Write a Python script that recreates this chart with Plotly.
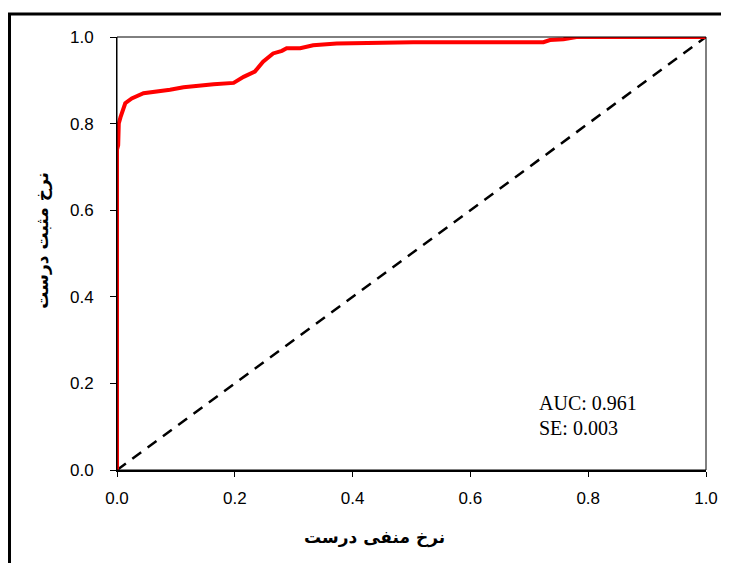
import plotly.graph_objects as go

fpr = [0.0, 0.0, 0.002, 0.003, 0.006, 0.014, 0.025, 0.045, 0.09, 0.113, 0.164, 0.198,
       0.215, 0.234, 0.248, 0.265, 0.28, 0.288, 0.311, 0.333, 0.373, 0.503, 0.724,
       0.735, 0.758, 0.78, 1.0]
tpr = [0.0, 0.74, 0.75, 0.80, 0.815, 0.847, 0.858, 0.870, 0.878, 0.884, 0.891, 0.894,
       0.908, 0.920, 0.943, 0.962, 0.968, 0.974, 0.974, 0.981, 0.985, 0.988, 0.988,
       0.993, 0.995, 1.0, 1.0]
diag = [0.0, 1.0]
ticks = [0.0, 0.2, 0.4, 0.6, 0.8, 1.0]
xtitle = "نرخ منفی درست"
ytitle = "نرخ مثبت درست"
auc_line = "AUC: 0.961"
se_line = "SE: 0.003"

fig = go.Figure()
fig.add_trace(go.Scatter(x=diag, y=diag, mode="lines",
                         line=dict(color="black", width=2.5, dash="11px,8px"), hoverinfo="skip"))
fig.add_trace(go.Scatter(x=fpr, y=tpr, mode="lines",
                         line=dict(color="#ff0000", width=4), hoverinfo="skip"))

fig.update_layout(
    width=721, height=555,
    margin=dict(l=109, r=23, t=29, b=93),
    paper_bgcolor="white", plot_bgcolor="white",
    showlegend=False,
    font=dict(family="Liberation Sans", size=14, color="black"),
    xaxis=dict(range=[0, 1], tickvals=ticks, ticktext=[f"{t:.1f}" for t in ticks],
               showgrid=False, zeroline=False, showline=True, linecolor="black", linewidth=2,
               ticks="outside", ticklen=5, tickcolor="black", tickwidth=1,
               ticklabelstandoff=7,
               tickfont=dict(size=17), fixedrange=True),
    yaxis=dict(range=[0, 1], tickvals=ticks, ticktext=[f"{t:.1f}" for t in ticks],
               showgrid=False, zeroline=False, showline=True, linecolor="black", linewidth=1,
               ticks="outside", ticklen=6, tickcolor="black", tickwidth=1,
               ticklabelstandoff=13,
               tickfont=dict(size=17), fixedrange=True),
    shapes=[
        dict(type="rect", xref="paper", yref="paper", x0=0, x1=1, y0=0, y1=1,
             line=dict(color="black", width=1)),
        dict(type="rect", xref="paper", yref="paper", x0=-0.1825, x1=1.1, y0=-0.3, y1=1.053,
             line=dict(color="black", width=3)),
    ],
    annotations=[
        dict(text=auc_line, x=0.713, y=0.155, xref="paper", yref="paper", xanchor="left",
             yanchor="middle", showarrow=False, align="left",
             font=dict(family="Liberation Serif", size=20, color="black")),
        dict(text=se_line, x=0.713, y=0.097, xref="paper", yref="paper", xanchor="left",
             yanchor="middle", showarrow=False, align="left",
             font=dict(family="Liberation Serif", size=20, color="black")),
        dict(text="<b>" + xtitle + "</b>", x=0.438, y=-0.157, xref="paper", yref="paper",
             xanchor="center", yanchor="middle",
             showarrow=False, font=dict(family="DejaVu Sans", size=17)),
        dict(text="<b>" + ytitle + "</b>", x=-0.127, y=0.53, xref="paper", yref="paper",
             xanchor="center", yanchor="middle",
             textangle=-90, showarrow=False, font=dict(family="DejaVu Sans", size=17)),
    ],
)

fig.write_html("out.html")
